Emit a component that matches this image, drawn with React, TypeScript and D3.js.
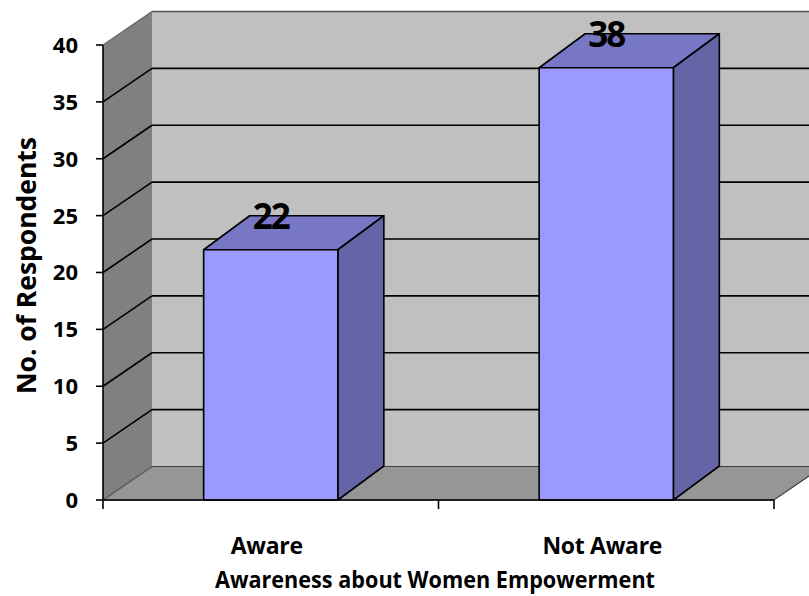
import React from "react";
import * as d3 from "d3";

// Chart data
const categories = ["Aware", "Not Aware"];
const respondents = [22, 38];
const yTicks = [0, 5, 10, 15, 20, 25, 30, 35, 40];
const yTitle = "No. of Respondents";
const xTitle = "Awareness about Women Empowerment";

const W = 809;
const H = 596;
const FONT = "'Open Sans', 'DejaVu Sans', sans-serif";

// Front plane of the 3D plot
const left = 103;
const right = 774;
const bottom = 500;
const top = 45;

// Oblique depth offsets (walls, bars)
const wallDX = 49;
const wallDY = 33.5;
const barDX = 46;
const barDY = 34;

const y = d3.scaleLinear().domain([0, 40]).range([bottom, top]);
const x = d3
  .scaleBand<string>()
  .domain(categories)
  .range([left, right])
  .paddingInner(0.6)
  .paddingOuter(0.3);

const pts = (p: [number, number][]) => p.map((q) => q.join(",")).join(" ");

export default function App() {
  const farRight = right + wallDX;
  const y0 = y(0);
  const y40 = y(40);

  return (
    <svg
      width={W}
      height={H}
      viewBox={`0 0 ${W} ${H}`}
      style={{ position: "absolute", left: 0, top: 0, background: "#fff" }}
    >
      {/* back wall */}
      <polygon
        points={pts([
          [left + wallDX, y40 - wallDY],
          [farRight, y40 - wallDY],
          [farRight, y0 - wallDY],
          [left + wallDX, y0 - wallDY],
        ])}
        fill="#c0c0c0"
      />
      {/* side wall */}
      <polygon
        points={pts([
          [left, y40],
          [left + wallDX, y40 - wallDY],
          [left + wallDX, y0 - wallDY],
          [left, y0],
        ])}
        fill="#808080"
      />
      {/* floor */}
      <polygon
        points={pts([
          [left, y0],
          [left + wallDX, y0 - wallDY],
          [farRight, y0 - wallDY],
          [right, y0],
        ])}
        fill="#969696"
        stroke="#404040"
        strokeWidth={1.2}
      />

      {/* gridlines across side and back walls */}
      {yTicks.map((t) => {
        const edge = t === 0 || t === 40;
        const col = edge ? "#666" : "#000";
        return (
          <g key={`g${t}`}>
            <line
              x1={left}
              y1={y(t)}
              x2={left + wallDX}
              y2={y(t) - wallDY}
              stroke={col}
              strokeWidth={edge ? 1.2 : 1.6}
            />
            {t !== 0 && (
              <line
                x1={left + wallDX}
                y1={y(t) - wallDY}
                x2={farRight}
                y2={y(t) - wallDY}
                stroke={t === 40 ? "#555" : "#000"}
                strokeWidth={1.6}
              />
            )}
          </g>
        );
      })}

      {/* 3D bars */}
      {categories.map((c, i) => {
        const x0 = x(c)!;
        const x1 = x0 + x.bandwidth();
        const yt = y(respondents[i]);
        return (
          <g key={c} stroke="#000" strokeWidth={1.6} strokeLinejoin="round">
            <polygon
              points={pts([
                [x0, yt],
                [x0 + barDX, yt - barDY],
                [x1 + barDX, yt - barDY],
                [x1, yt],
              ])}
              fill="#7777c6"
            />
            <polygon
              points={pts([
                [x1, yt],
                [x1 + barDX, yt - barDY],
                [x1 + barDX, y0 - barDY],
                [x1, y0],
              ])}
              fill="#6464a6"
            />
            <rect x={x0} y={yt} width={x1 - x0} height={y0 - yt} fill="#9999ff" />
          </g>
        );
      })}

      {/* value labels */}
      {categories.map((c, i) => (
        <text
          key={`v${c}`}
          x={x(c)! + x.bandwidth() / 2}
          y={y(respondents[i]) - 21}
          textAnchor="middle"
          fontFamily={FONT}
          fontWeight={700}
          fontSize={35}
          letterSpacing={-2}
          fill="#000"
        >
          {respondents[i]}
        </text>
      ))}

      {/* value axis */}
      <line x1={left} y1={y40} x2={left} y2={y0} stroke="#000" strokeWidth={1.6} />
      {yTicks.map((t) => (
        <g key={`t${t}`}>
          <line x1={left - 7} y1={y(t)} x2={left} y2={y(t)} stroke="#000" strokeWidth={1.6} />
          <text
            x={left - 25}
            y={y(t)}
            dy="0.36em"
            textAnchor="end"
            fontFamily={FONT}
            fontWeight={700}
            fontSize={22}
            fill="#000"
          >
            {t}
          </text>
        </g>
      ))}

      {/* category axis */}
      <line x1={left} y1={y0} x2={right} y2={y0} stroke="#000" strokeWidth={1.6} />
      {[left, (left + right) / 2, right].map((tx, i) => (
        <line key={`xt${i}`} x1={tx} y1={y0} x2={tx} y2={y0 + 9} stroke="#000" strokeWidth={1.6} />
      ))}
      {categories.map((c) => (
        <text
          key={`c${c}`}
          x={x(c)! + x.bandwidth() / 2 - 4}
          y={554}
          textAnchor="middle"
          fontFamily={FONT}
          fontWeight={700}
          fontSize={23}
          letterSpacing={-0.3}
          fill="#000"
        >
          {c}
        </text>
      ))}

      {/* axis titles */}
      <text
        x={435}
        y={588}
        textAnchor="middle"
        fontFamily={FONT}
        fontWeight={700}
        fontSize={24}
        textLength={440}
        lengthAdjust="spacingAndGlyphs"
        fill="#000"
      >
        {xTitle}
      </text>
      <text
        transform={`translate(35.5, 265.5) rotate(-90)`}
        textAnchor="middle"
        fontFamily={FONT}
        fontWeight={700}
        fontSize={27}
        textLength={257}
        lengthAdjust="spacingAndGlyphs"
        fill="#000"
      >
        {yTitle}
      </text>
    </svg>
  );
}
